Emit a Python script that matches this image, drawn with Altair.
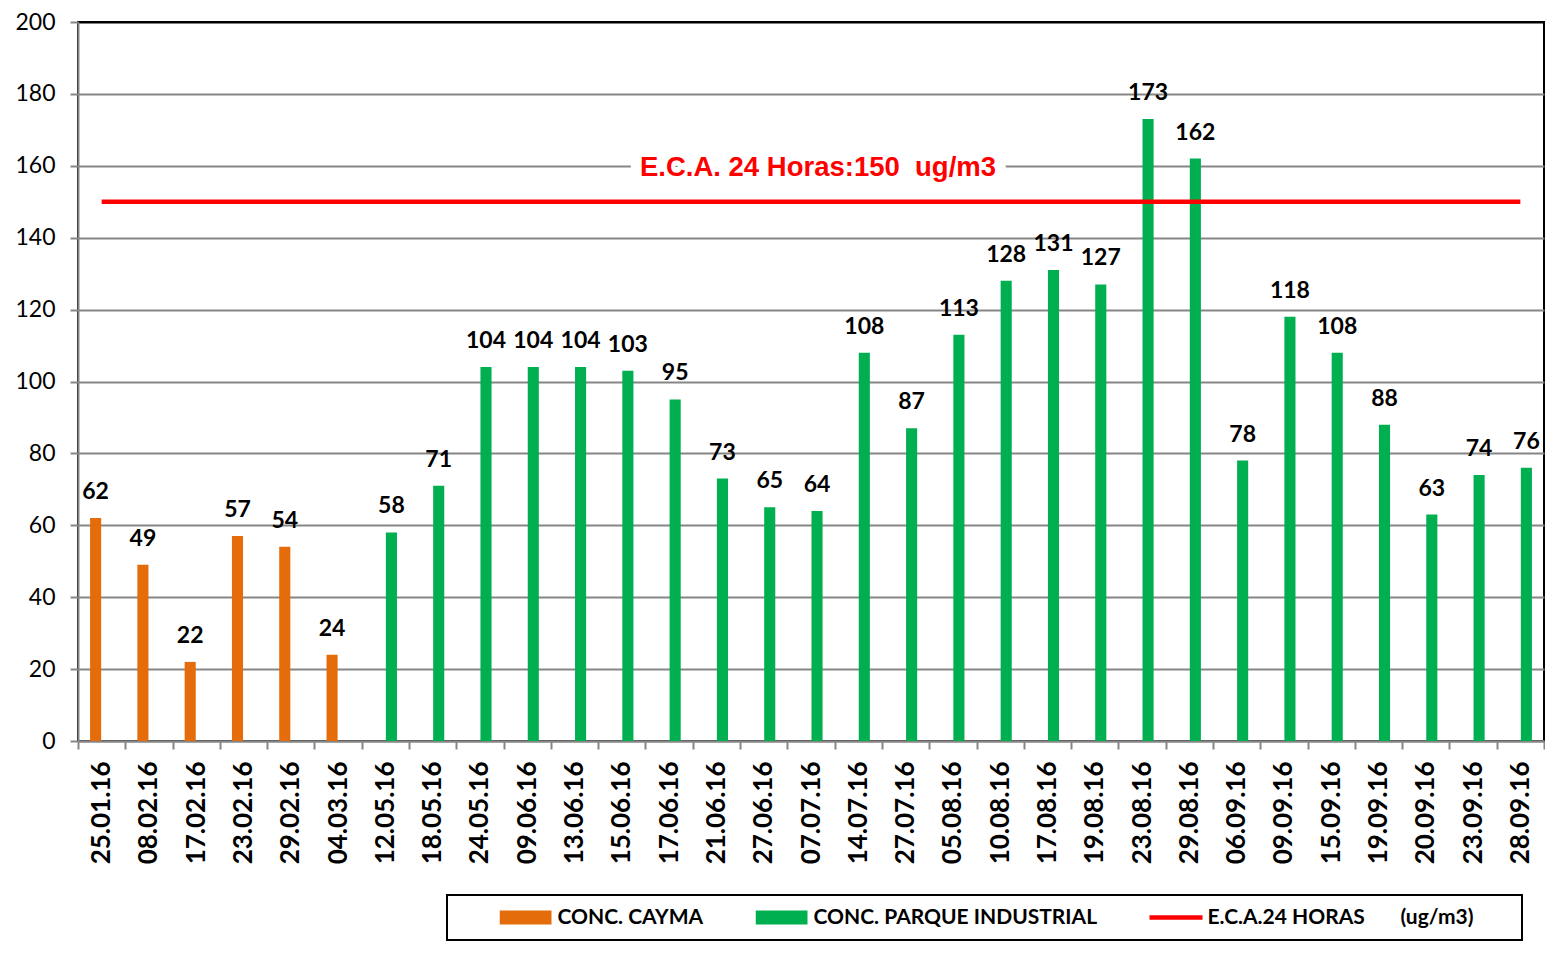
import altair as alt
import pandas as pd

fechas = ["25.01.16", "08.02.16", "17.02.16", "23.02.16", "29.02.16", "04.03.16",
          "12.05.16", "18.05.16", "24.05.16", "09.06.16", "13.06.16", "15.06.16",
          "17.06.16", "21.06.16", "27.06.16", "07.07.16", "14.07.16", "27.07.16",
          "05.08.16", "10.08.16", "17.08.16", "19.08.16", "23.08.16", "29.08.16",
          "06.09.16", "09.09.16", "15.09.16", "19.09.16", "20.09.16", "23.09.16",
          "28.09.16"]
cayma = [62, 49, 22, 57, 54, 24]
parque = [58, 71, 104, 104, 104, 103, 95, 73, 65, 64, 108, 87, 113, 128, 131, 127,
          173, 162, 78, 118, 108, 88, 63, 74, 76]
eca_value = 150
y_ticks = [0, 20, 40, 60, 80, 100, 120, 140, 160, 180, 200]

NB = "\u00a0"
BLANK = "\u2800"
S_CAYMA = "CONC. CAYMA"
S_PARQUE = "CONC. PARQUE INDUSTRIAL"
S_ECA = "E.C.A.24 HORAS" + NB * 7 + "(ug/m3)" + NB * 4 + BLANK
series = [S_CAYMA, S_PARQUE, S_ECA]
colors = ["#E46C0A", "#00B050", "#FF0000"]
eca_label = "E.C.A. 24 Horas:150" + NB + " ug/m3"
eca_label_pos = ("07.07.16", 160)

GRID = "#868686"
W, H = 1466, 719

df_bar = pd.DataFrame({
    "fecha": fechas,
    "serie": [S_CAYMA] * len(cayma) + [S_PARQUE] * len(parque),
    "valor": cayma + parque,
})
df_eca = pd.DataFrame({"fecha": fechas, "valor": [eca_value] * len(fechas)})
df_lbl = pd.DataFrame({"fecha": [eca_label_pos[0]], "valor": [eca_label_pos[1]], "t": [eca_label]})

x_enc = alt.X(
    "fecha:N", sort=fechas, title=None,
    scale=alt.Scale(domain=fechas, paddingInner=0, paddingOuter=0),
    axis=alt.Axis(tickBand="extent", labelAngle=270, labelAlign="right", labelBaseline="middle",
                  labelFont="Lato", labelFontSize=26, labelFontWeight="bold", labelColor="black",
                  labelPadding=12, tickColor=GRID, tickWidth=2, tickSize=8,
                  domainColor=GRID, domainWidth=2, grid=False),
)
y_enc = alt.Y(
    "valor:Q", title=None,
    scale=alt.Scale(domain=[0, 200], nice=False, zero=True),
    axis=alt.Axis(values=y_ticks, labelFont="Lato", labelFontSize=23, labelColor="black",
                  labelPadding=15, tickColor=GRID, tickWidth=2, tickSize=8,
                  domainColor=GRID, domainWidth=2, grid=True, gridWidth=2,
                  gridColor={"condition": {"test": "datum.value === 200", "value": "black"},
                             "value": GRID}),
)
xoff = alt.XOffset("serie:N", sort=[S_CAYMA, S_PARQUE],
                   scale=alt.Scale(domain=[S_CAYMA, S_PARQUE], paddingInner=0.08, paddingOuter=1.0))

leg = alt.Legend(title=NB, orient="none", legendX=369, legendY=873, direction="horizontal",
                 titleOrient="left", titleFontSize=1, titlePadding=40, padding=12.5,
                 strokeColor="black", symbolSize=2704, clipHeight=20, labelOffset=6,
                 columnPadding=52, labelFont="Lato", labelFontSize=21, labelFontWeight="bold",
                 labelColor="black", symbolStrokeWidth=0, labelLimit=600)
color_enc = alt.Color("serie:N", scale=alt.Scale(domain=series, range=colors), legend=leg)

rect_path = "M-1,-0.27L1,-0.27L1,0.27L-1,0.27Z"
line_path = "M-1.04,-0.085L1.04,-0.085L1.04,0.085L-1.04,0.085Z"
shape_enc = alt.Shape("serie:N", scale=alt.Scale(domain=series, range=[rect_path, rect_path, line_path]),
                      legend=leg)

bars = alt.Chart(df_bar).mark_bar().encode(x=x_enc, xOffset=xoff, y=y_enc, color=color_enc)

values = alt.Chart(df_bar).mark_text(font="Lato", fontSize=23, fontWeight="bold", color="black",
                                     baseline="alphabetic", dy=-19).encode(
    x=x_enc, xOffset=xoff, y=y_enc, text=alt.Text("valor:Q", format="d"))

line = alt.Chart(df_eca).mark_line(color="#FF0000", strokeWidth=4.5).encode(x=x_enc, y=y_enc)

halo = alt.Chart(df_lbl).mark_text(font="Liberation Sans", fontSize=27.5, fontWeight="bold",
                                   stroke="white", strokeWidth=22, strokeJoin="round", fill="white",
                                   baseline="alphabetic", dy=10, dx=7).encode(x=x_enc, y=y_enc, text="t:N")
lbl = alt.Chart(df_lbl).mark_text(font="Liberation Sans", fontSize=27.5, fontWeight="bold",
                                  color="#FF0000", baseline="alphabetic", dy=10, dx=7).encode(
    x=x_enc, y=y_enc, text="t:N")

legend_layer = alt.Chart(df_bar).transform_filter("false").mark_point(filled=True, opacity=1).encode(
    x=x_enc, y=y_enc, color=color_enc, shape=shape_enc)

chart = alt.layer(bars, line, halo, lbl, values, legend_layer).properties(
    width=W, height=H,
    autosize=alt.AutoSizeParams(type="none"),
    padding={"left": 70, "top": 14, "right": 1, "bottom": 200},
).configure_view(stroke="black", strokeWidth=2).configure_legend(strokeWidth=2)

chart.save("out.html", embed_options={"renderer": "svg", "actions": False})
